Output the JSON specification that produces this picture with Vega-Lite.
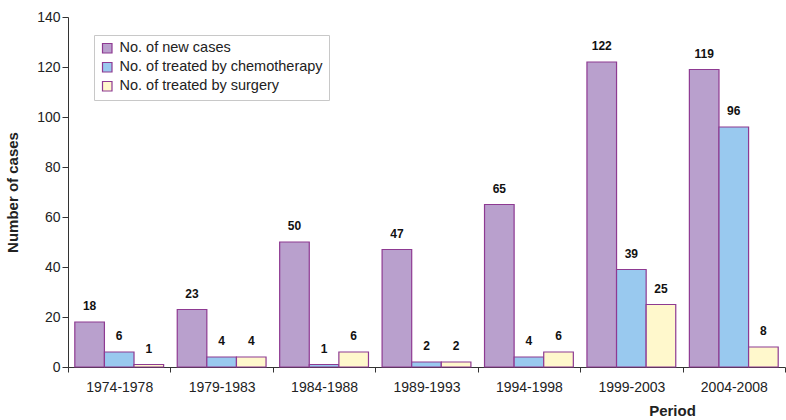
{
  "$schema": "https://vega.github.io/schema/vega-lite/v6.json",
  "width": 717,
  "height": 350,
  "autosize": "none",
  "padding": {"left": 68, "top": 17, "right": 1, "bottom": 53},
  "background": "white",
  "config": {
    "view": {"stroke": null},
    "font": "Liberation Sans"
  },
  "data": {
    "values": [
      {"period": "1974-1978", "series": "No. of new cases", "value": 18},
      {"period": "1974-1978", "series": "No. of treated by chemotherapy", "value": 6},
      {"period": "1974-1978", "series": "No. of treated by surgery", "value": 1},
      {"period": "1979-1983", "series": "No. of new cases", "value": 23},
      {"period": "1979-1983", "series": "No. of treated by chemotherapy", "value": 4},
      {"period": "1979-1983", "series": "No. of treated by surgery", "value": 4},
      {"period": "1984-1988", "series": "No. of new cases", "value": 50},
      {"period": "1984-1988", "series": "No. of treated by chemotherapy", "value": 1},
      {"period": "1984-1988", "series": "No. of treated by surgery", "value": 6},
      {"period": "1989-1993", "series": "No. of new cases", "value": 47},
      {"period": "1989-1993", "series": "No. of treated by chemotherapy", "value": 2},
      {"period": "1989-1993", "series": "No. of treated by surgery", "value": 2},
      {"period": "1994-1998", "series": "No. of new cases", "value": 65},
      {"period": "1994-1998", "series": "No. of treated by chemotherapy", "value": 4},
      {"period": "1994-1998", "series": "No. of treated by surgery", "value": 6},
      {"period": "1999-2003", "series": "No. of new cases", "value": 122},
      {"period": "1999-2003", "series": "No. of treated by chemotherapy", "value": 39},
      {"period": "1999-2003", "series": "No. of treated by surgery", "value": 25},
      {"period": "2004-2008", "series": "No. of new cases", "value": 119},
      {"period": "2004-2008", "series": "No. of treated by chemotherapy", "value": 96},
      {"period": "2004-2008", "series": "No. of treated by surgery", "value": 8}
    ]
  },
  "encoding": {
    "x": {
      "field": "period",
      "type": "nominal",
      "sort": null,
      "scale": {"paddingInner": 0, "paddingOuter": 0},
      "axis": {
        "title": "Period",
        "titleFontSize": 15,
        "titleFontWeight": "bold",
        "titleColor": "#222",
        "titleX": 604,
        "titleY": 51,
        "titleAlign": "center",
        "titleBaseline": "bottom",
        "labelAngle": 0,
        "labelFontSize": 14,
        "labelColor": "#222",
        "labelPadding": 8,
        "tickBand": "extent",
        "tickSize": 5,
        "tickColor": "#333",
        "domainColor": "#333"
      }
    },
    "xOffset": {
      "field": "series",
      "type": "nominal",
      "sort": ["No. of new cases", "No. of treated by chemotherapy", "No. of treated by surgery"],
      "scale": {"paddingInner": 0, "paddingOuter": 0.23}
    },
    "y": {
      "field": "value",
      "type": "quantitative",
      "scale": {"domain": [0, 140]},
      "axis": {
        "title": "Number of cases",
        "titleFontSize": 15,
        "titleFontWeight": "bold",
        "titleColor": "#222",
        "titlePadding": 16,
        "values": [0, 20, 40, 60, 80, 100, 120, 140],
        "grid": false,
        "labelFontSize": 14,
        "labelColor": "#222",
        "tickSize": 6,
        "tickColor": "#333",
        "domainColor": "#333"
      }
    }
  },
  "layer": [
    {
      "mark": {"type": "bar", "stroke": "#8e3a92", "strokeWidth": 1.2},
      "encoding": {
        "color": {
          "field": "series",
          "type": "nominal",
          "scale": {
            "domain": ["No. of new cases", "No. of treated by chemotherapy", "No. of treated by surgery"],
            "range": ["#b9a0cd", "#99c9ef", "#fff8cc"]
          },
          "legend": {
            "title": null,
            "orient": "none",
            "legendX": 26,
            "legendY": 18,
            "symbolType": "square",
            "symbolSize": 90,
            "symbolStrokeColor": "#8e3a92",
            "symbolStrokeWidth": 1.2,
            "labelFontSize": 14.5,
            "labelColor": "#222",
            "labelLimit": 300,
            "labelOffset": 5,
            "rowPadding": 3,
            "strokeColor": "#c8c8c8",
            "fillColor": "white",
            "padding": 6
          }
        }
      }
    },
    {
      "mark": {"type": "text", "dy": -9, "fontWeight": "bold", "fontSize": 12, "color": "#111", "baseline": "bottom"},
      "encoding": {
        "text": {"field": "value", "type": "quantitative"}
      }
    }
  ]
}
